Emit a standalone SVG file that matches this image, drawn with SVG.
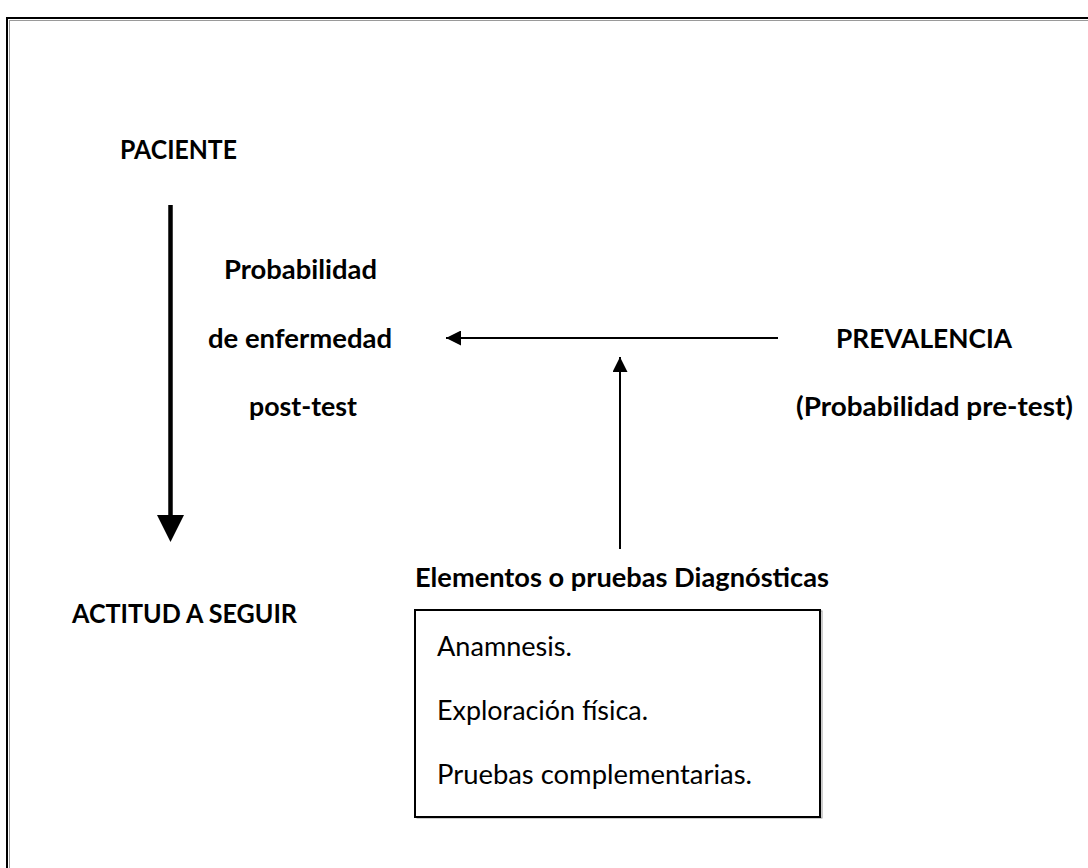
<svg xmlns="http://www.w3.org/2000/svg" width="1088" height="868" viewBox="0 0 1088 868">
  <style>
    .t { font-family: Lato, "Open Sans", "Liberation Sans", sans-serif; font-size: 26px; fill: #000; }
    .b { font-weight: bold; font-size: 27px; }
    .frame { fill: none; stroke: #000; stroke-width: 2; }
    .shadow { fill: none; stroke: #9a9a9a; stroke-width: 1; }
  </style>
  <defs>
    <marker id="headThin" viewBox="0 0 10 10" refX="10" refY="5" markerWidth="17" markerHeight="15" markerUnits="userSpaceOnUse" orient="auto">
      <path d="M0,0 L10,5 L0,10 Z" fill="#000"/>
    </marker>
  </defs>

  <rect width="1088" height="868" fill="#fff"/>

  <!-- outer page frame -->
  <g id="frame">
    <path class="shadow" d="M9,20.5 H1088 M9.5,20 V868"/>
    <path class="frame" d="M7,868 V18 H1088"/>
  </g>

  <!-- connectors -->
  <g id="connectors">
    <!-- thick downward arrow -->
    <line x1="170.5" y1="205" x2="170.5" y2="516" stroke="#000" stroke-width="4.5"/>
    <path d="M157,515 L184,515 L170.5,542 Z" fill="#000"/>
    <!-- horizontal arrow from prevalence -->
    <line x1="778" y1="338" x2="446" y2="338" stroke="#000" stroke-width="2" marker-end="url(#headThin)"/>
    <!-- vertical arrow from diagnostic tests -->
    <line x1="620" y1="549" x2="620" y2="357" stroke="#000" stroke-width="2" marker-end="url(#headThin)"/>
  </g>

  <g id="paciente">
    <text class="t b" x="120" y="159" textLength="117" lengthAdjust="spacingAndGlyphs">PACIENTE</text>
  </g>

  <g id="postTest">
    <text class="t b" x="224" y="279" textLength="153" lengthAdjust="spacingAndGlyphs">Probabilidad</text>
    <text class="t b" x="208" y="348" textLength="184" lengthAdjust="spacingAndGlyphs">de enfermedad</text>
    <text class="t b" x="249" y="416" textLength="108" lengthAdjust="spacingAndGlyphs">post-test</text>
  </g>

  <g id="prevalencia">
    <text class="t b" x="836" y="348" textLength="176" lengthAdjust="spacingAndGlyphs">PREVALENCIA</text>
    <text class="t b" x="796" y="416" textLength="277" lengthAdjust="spacingAndGlyphs">(Probabilidad pre-test)</text>
  </g>

  <g id="actitud">
    <text class="t b" x="72" y="623" textLength="225" lengthAdjust="spacingAndGlyphs">ACTITUD A SEGUIR</text>
  </g>

  <g id="pruebas">
    <text class="t b" x="415" y="587" textLength="414" lengthAdjust="spacingAndGlyphs">Elementos o pruebas Diagnósticas</text>
    <rect x="416" y="610" width="405" height="207" fill="none" stroke="#9a9a9a" stroke-width="1" transform="translate(1,1)"/>
    <rect x="415" y="610" width="405" height="207" fill="#fff" stroke="#000" stroke-width="2"/>
    <text class="t" x="437" y="656" textLength="135" lengthAdjust="spacingAndGlyphs">Anamnesis.</text>
    <text class="t" x="437" y="720" textLength="211" lengthAdjust="spacingAndGlyphs">Exploración física.</text>
    <text class="t" x="437" y="784" textLength="315" lengthAdjust="spacingAndGlyphs">Pruebas complementarias.</text>
  </g>
</svg>
